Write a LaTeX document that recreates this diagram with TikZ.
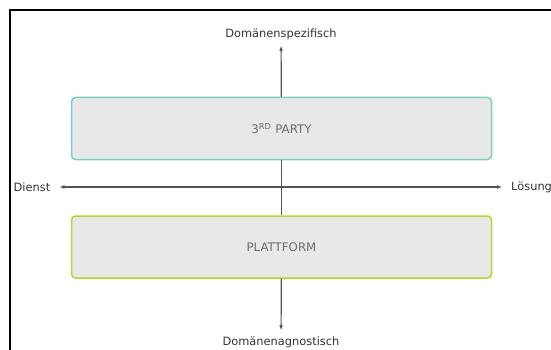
\documentclass[tikz,border=0pt]{standalone}
\usepackage{fontspec}
\setmainfont{DejaVu Sans}
\usetikzlibrary{positioning,arrows.meta}

\definecolor{tealline}{HTML}{7CCFC0}
\definecolor{limeline}{HTML}{BDD22E}
\definecolor{boxfill}{HTML}{E8E8E8}
\definecolor{axisgray}{HTML}{555555}
\definecolor{labeltext}{HTML}{333333}
\definecolor{boxtext}{HTML}{6B6B6B}

\begin{document}
\begin{tikzpicture}[x=1pt,y=-1pt,
		every node/.style={font=\fontsize{11.4}{13}\selectfont,text=labeltext,inner xsep=9pt,inner ysep=6pt},
		layer/.style={draw,rounded corners=4pt,fill=boxfill,line width=1.5pt,minimum width=420pt,minimum height=62pt,text=boxtext,font=\fontsize{11.8}{13}\selectfont},
		axis/.style={draw=axisgray,line width=1.2pt}]

		\useasboundingbox (0,0) rectangle (551,350);

		%frame
		\draw[line width=2pt] (10,360) -- (10,10) -- (560,10);

		%boxes
		\node[layer,draw=tealline] (party) at (281.5,128.5) {3\textsuperscript{RD} PARTY};
		\node[layer,draw=limeline] (platform) at (281.5,247) {PLATTFORM};

		%axis labels
		\node (spez) at (281,34) {Domänenspezifisch};
		\node (agn) at (281,342) {Domänenagnostisch};
		\node (dienst) at (32,187) {Dienst};
		\node[anchor=west] (loesung) at (502,187) {Lösung};

		%axes
		\draw[axis,-{Latex[length=5pt,width=4pt]}] (party) -- (spez);
		\draw[axis] (party) -- (platform);
		\draw[axis,-{Latex[length=5pt,width=4pt]}] (platform) -- (agn);
		\draw[axis,{Latex[length=5pt,width=4pt]}-{Latex[length=5pt,width=4pt]}] (dienst) -- (loesung);

\end{tikzpicture}
\end{document}
